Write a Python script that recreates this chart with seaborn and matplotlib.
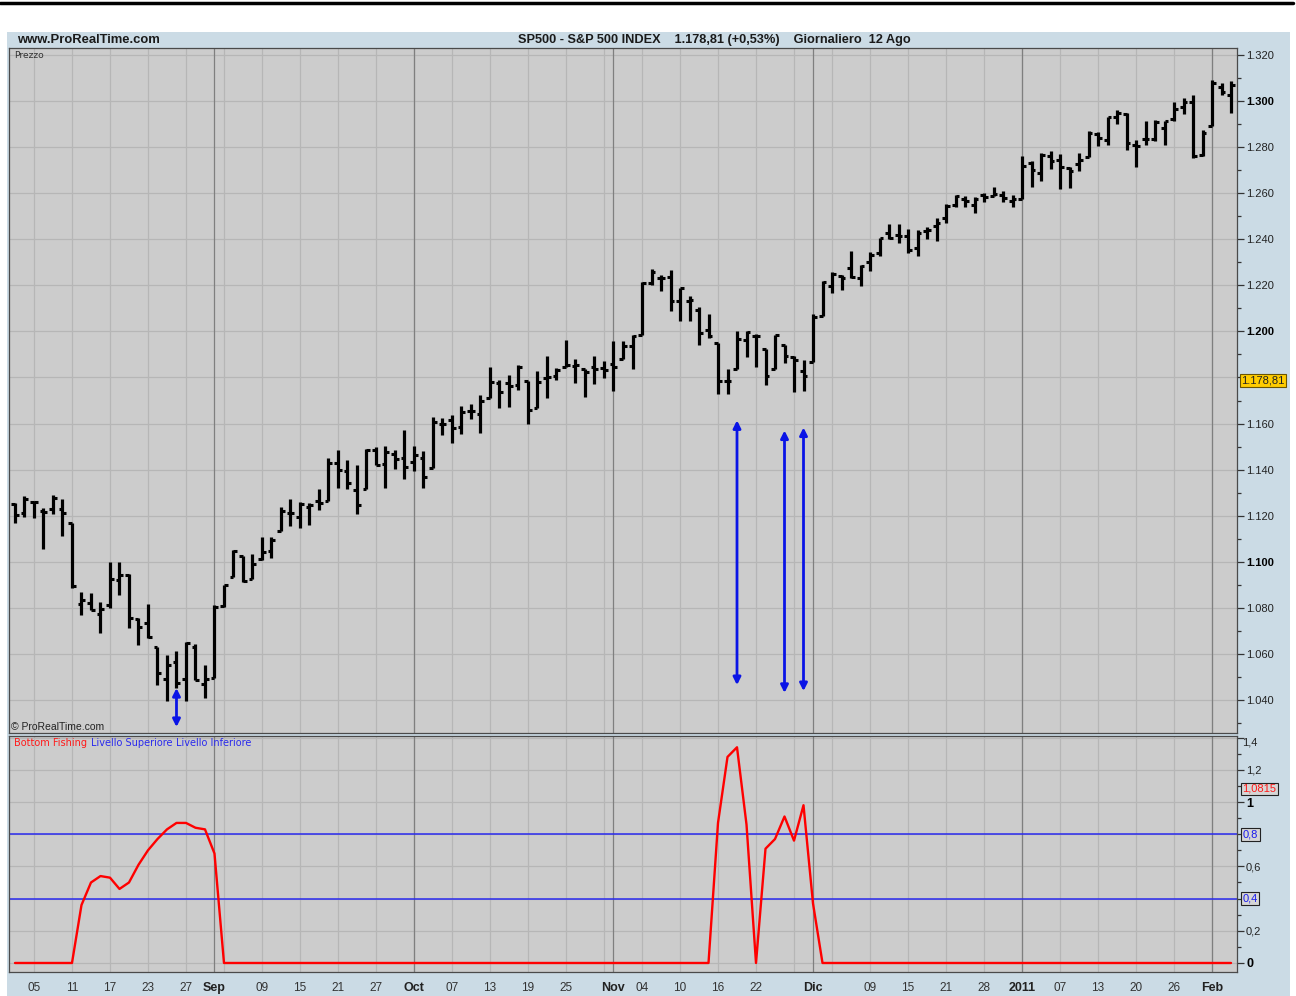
import numpy as np
import matplotlib
matplotlib.use("Agg")
import matplotlib.pyplot as plt
import matplotlib.transforms as mtransforms
from matplotlib.patches import Rectangle
from matplotlib.lines import Line2D
from matplotlib import font_manager
import seaborn as sns

# ---------------- data ----------------
dates = (
    ['2010-08-03','2010-08-04','2010-08-05','2010-08-06','2010-08-09','2010-08-10','2010-08-11','2010-08-12','2010-08-13','2010-08-16','2010-08-17','2010-08-18','2010-08-19','2010-08-20','2010-08-23','2010-08-24','2010-08-25','2010-08-26','2010-08-27','2010-08-30','2010-08-31']
    + ['2010-09-01','2010-09-02','2010-09-03','2010-09-07','2010-09-08','2010-09-09','2010-09-10','2010-09-13','2010-09-14','2010-09-15','2010-09-16','2010-09-17','2010-09-20','2010-09-21','2010-09-22','2010-09-23','2010-09-24','2010-09-27','2010-09-28','2010-09-29','2010-09-30']
    + ['2010-10-01','2010-10-04','2010-10-05','2010-10-06','2010-10-07','2010-10-08','2010-10-11','2010-10-12','2010-10-13','2010-10-14','2010-10-15','2010-10-18','2010-10-19','2010-10-20','2010-10-21','2010-10-22','2010-10-25','2010-10-26','2010-10-27','2010-10-28','2010-10-29']
    + ['2010-11-01','2010-11-02','2010-11-03','2010-11-04','2010-11-05','2010-11-08','2010-11-09','2010-11-10','2010-11-11','2010-11-12','2010-11-15','2010-11-16','2010-11-17','2010-11-18','2010-11-19','2010-11-22','2010-11-23','2010-11-24','2010-11-26','2010-11-29','2010-11-30']
    + ['2010-12-01','2010-12-02','2010-12-03','2010-12-06','2010-12-07','2010-12-08','2010-12-09','2010-12-10','2010-12-13','2010-12-14','2010-12-15','2010-12-16','2010-12-17','2010-12-20','2010-12-21','2010-12-22','2010-12-23','2010-12-27','2010-12-28','2010-12-29','2010-12-30','2010-12-31']
    + ['2011-01-03','2011-01-04','2011-01-05','2011-01-06','2011-01-07','2011-01-10','2011-01-11','2011-01-12','2011-01-13','2011-01-14','2011-01-18','2011-01-19','2011-01-20','2011-01-21','2011-01-24','2011-01-25','2011-01-26','2011-01-27','2011-01-28','2011-01-31']
    + ['2011-02-01','2011-02-02','2011-02-03']
)

opens = (
    [1125.3,1121.1,1125.8,1122.1,1122.8,1122.9,1116.9,1081.5,1082.2,1077.5,1081.2,1092.1,1094.2,1075.2,1073.4,1062.9,1049.0,1056.3,1049.3,1062.9,1046.9]
    + [1049.7,1080.7,1093.6,1102.6,1092.4,1101.2,1104.6,1113.4,1121.2,1119.4,1123.9,1126.4,1126.6,1142.8,1139.5,1131.1,1131.7,1148.6,1142.3,1146.6,1145.0]
    + [1143.5,1145.0,1140.7,1159.8,1161.6,1158.4,1165.3,1164.3,1171.3,1177.8,1177.5,1176.8,1178.6,1166.7,1179.6,1180.6,1184.7,1184.9,1183.8,1184.5,1183.9]
    + [1185.7,1187.9,1193.8,1198.3,1221.2,1223.2,1223.6,1213.1,1213.0,1209.1,1200.4,1194.8,1178.3,1183.8,1196.1,1198.1,1192.5,1183.7,1194.2,1189.1,1182.9]
    + [1186.6,1206.8,1219.9,1223.9,1227.3,1223.2,1230.1,1233.9,1242.5,1241.8,1241.6,1236.3,1243.6,1245.8,1249.4,1254.9,1257.5,1254.7,1259.1,1258.8,1259.4,1256.8]
    + [1257.6,1272.9,1268.8,1276.3,1274.4,1270.8,1272.6,1275.7,1285.8,1282.9,1293.2,1294.5,1280.9,1283.6,1283.3,1288.2,1292.0,1297.5,1299.6,1276.5]
    + [1289.1,1305.9,1302.8]
)
highs = (
    [1125.4,1128.5,1126.6,1123.3,1129.2,1127.2,1116.9,1086.7,1086.3,1082.6,1100.1,1099.8,1094.6,1075.6,1081.6,1063.2,1059.4,1061.5,1065.2,1064.4,1055.1]
    + [1081.3,1090.1,1105.1,1102.6,1103.3,1110.9,1110.9,1123.9,1127.4,1126.0,1125.4,1131.5,1144.9,1148.6,1144.4,1141.8,1148.9,1149.9,1150.3,1148.6,1157.2]
    + [1150.3,1148.2,1162.8,1162.3,1163.9,1167.7,1168.7,1172.6,1184.4,1178.9,1181.2,1185.5,1178.6,1182.9,1189.4,1183.9,1196.1,1187.9,1183.8,1189.5,1187.1]
    + [1195.8,1195.9,1198.3,1221.3,1227.1,1224.6,1226.8,1218.8,1215.5,1210.5,1207.4,1194.8,1183.6,1200.3,1200.0,1198.9,1192.5,1198.6,1194.2,1189.4,1187.4]
    + [1207.6,1221.9,1225.6,1224.5,1235.1,1228.9,1234.4,1240.4,1246.7,1246.6,1244.3,1243.8,1245.1,1249.1,1255.1,1259.4,1258.6,1258.4,1259.9,1262.6,1261.1,1259.3]
    + [1276.2,1274.1,1277.6,1278.2,1276.8,1271.5,1277.6,1286.9,1286.6,1293.2,1296.1,1294.6,1283.2,1291.2,1291.9,1291.3,1299.7,1301.3,1302.7,1287.2]
    + [1308.9,1307.6,1308.6]
)
lows = (
    [1116.8,1119.5,1118.8,1105.7,1120.9,1111.0,1088.6,1076.7,1079.0,1069.2,1080.0,1085.8,1071.4,1063.9,1067.1,1046.7,1039.8,1045.4,1039.7,1048.8,1040.9]
    + [1049.7,1080.4,1093.6,1091.2,1092.4,1100.6,1101.7,1113.4,1115.6,1114.6,1116.1,1122.4,1126.6,1131.9,1131.6,1120.9,1131.7,1142.0,1132.1,1140.3,1136.1]
    + [1139.4,1131.9,1140.7,1154.9,1151.4,1155.6,1162.0,1155.7,1171.3,1166.7,1167.1,1174.6,1159.7,1166.7,1171.2,1179.0,1184.7,1177.7,1171.7,1177.1,1179.8]
    + [1174.1,1187.9,1183.6,1198.3,1220.3,1217.6,1208.9,1204.3,1204.5,1194.1,1197.2,1173.0,1173.0,1183.8,1189.0,1184.6,1176.9,1183.7,1186.2,1173.6,1174.1]
    + [1186.6,1206.8,1216.8,1218.0,1223.3,1219.5,1226.1,1232.6,1240.3,1238.2,1234.0,1232.9,1239.9,1239.4,1247.1,1254.2,1253.9,1251.5,1256.2,1258.8,1256.3,1254.2]
    + [1257.6,1262.7,1265.4,1270.4,1261.7,1262.2,1269.6,1275.7,1280.5,1281.1,1290.2,1278.9,1271.3,1281.1,1282.5,1281.1,1291.2,1294.4,1275.1,1276.2]
    + [1289.1,1302.6,1294.8]
)
closes = (
    [1120.5,1127.2,1125.8,1121.6,1127.8,1121.1,1089.5,1083.6,1079.3,1079.4,1092.5,1094.2,1075.6,1071.7,1067.4,1051.9,1055.3,1047.2,1064.6,1048.9,1049.3]
    + [1080.3,1090.1,1104.5,1091.8,1098.9,1104.2,1109.6,1121.9,1121.1,1125.1,1124.7,1125.6,1142.7,1139.8,1134.3,1124.8,1148.7,1142.2,1147.7,1144.7,1141.2]
    + [1146.2,1137.0,1160.8,1160.0,1158.1,1165.2,1165.3,1169.8,1178.1,1173.8,1176.2,1184.7,1165.9,1178.2,1180.3,1183.1,1185.6,1185.6,1182.5,1183.8,1183.3]
    + [1184.4,1193.6,1198.0,1221.1,1225.9,1223.3,1213.4,1218.7,1213.5,1199.2,1197.8,1178.3,1178.6,1196.7,1199.7,1197.8,1180.7,1198.4,1189.4,1187.8,1180.6]
    + [1206.1,1221.5,1224.7,1223.1,1223.8,1228.3,1233.0,1240.4,1240.5,1241.6,1235.2,1242.9,1243.9,1247.1,1254.6,1258.8,1256.8,1257.5,1258.5,1259.8,1257.9,1257.6]
    + [1271.9,1270.2,1276.6,1273.9,1271.5,1269.8,1274.5,1286.0,1283.8,1293.2,1295.0,1281.9,1280.3,1283.4,1290.8,1291.2,1296.6,1299.5,1276.3,1286.1]
    + [1307.6,1304.0,1307.1]
)

bottom_fishing = (
    [0.0,0.0,0.0,0.0,0.0,0.0,0.0,0.36,0.50,0.54,0.53,0.46,0.50,0.61,0.70,0.77,0.83,0.87,0.87,0.84,0.83]
    + [0.68,0.0,0.0,0.0,0.0,0.0,0.0,0.0,0.0,0.0,0.0,0.0,0.0,0.0,0.0,0.0,0.0,0.0,0.0,0.0,0.0]
    + [0.0,0.0,0.0,0.0,0.0,0.0,0.0,0.0,0.0,0.0,0.0,0.0,0.0,0.0,0.0,0.0,0.0,0.0,0.0,0.0,0.0]
    + [0.0,0.0,0.0,0.0,0.0,0.0,0.0,0.0,0.0,0.0,0.0,0.87,1.28,1.34,0.86,0.0,0.71,0.77,0.91,0.76,0.98]
    + [0.37,0.0,0.0,0.0,0.0,0.0,0.0,0.0,0.0,0.0,0.0,0.0,0.0,0.0,0.0,0.0,0.0,0.0,0.0,0.0,0.0,0.0]
    + [0.0,0.0,0.0,0.0,0.0,0.0,0.0,0.0,0.0,0.0,0.0,0.0,0.0,0.0,0.0,0.0,0.0,0.0,0.0,0.0]
    + [0.0,0.0,0.0]
)
livello_superiore = 0.8
livello_inferiore = 0.4
last_price = 1178.81
last_price_label = '1.178,81'
last_indicator = 1.0815
last_indicator_label = '1,0815'

xtick_dates = ['2010-08-05','2010-08-11','2010-08-17','2010-08-23','2010-08-27','2010-09-01','2010-09-09',
               '2010-09-15','2010-09-21','2010-09-27','2010-10-01','2010-10-07','2010-10-13','2010-10-19',
               '2010-10-25','2010-11-01','2010-11-04','2010-11-10','2010-11-16','2010-11-22','2010-12-01',
               '2010-12-09','2010-12-15','2010-12-21','2010-12-28','2011-01-03','2011-01-07','2011-01-13',
               '2011-01-20','2011-01-26','2011-02-01']
xtick_labels = ['05','11','17','23','27','Sep','09','15','21','27','Oct','07','13','19','25','Nov','04',
                '10','16','22','Dic','09','15','21','28','2011','07','13','20','26','Feb']
month_labels = ['Sep','Oct','Nov','Dic','2011','Feb']
month_dates = ['2010-09-01','2010-10-01','2010-11-01','2010-12-01','2011-01-03','2011-02-01']

arrow_dates = ['2010-08-26','2010-11-18','2010-11-26','2010-11-30']
arrow_tops = [1045.2, 1161.4, 1157.0, 1158.3]
arrow_bottoms = [1028.3, 1046.5, 1043.1, 1043.9]

price_ticks = [1040,1060,1080,1100,1120,1140,1160,1180,1200,1220,1240,1260,1280,1300,1320]
ind_ticks = [0.0,0.2,0.4,0.6,0.8,1.0,1.2,1.4]
ind_tick_labels = ['0','0,2','0,4','0,6','0,8','1','1,2','1,4']

# ---------------- style ----------------
sns.set_style("white")
names = {f.name for f in font_manager.fontManager.ttflist}
narrow = 'Liberation Sans Narrow' if 'Liberation Sans Narrow' in names else 'Liberation Sans'
plt.rcParams['font.family'] = [narrow, 'DejaVu Sans']
reg = ['Liberation Sans', 'DejaVu Sans']
wide = ['DejaVu Sans']

W, H = 1296, 996
fig = plt.figure(figsize=(W/100, H/100), dpi=100)
fig.patch.set_facecolor('white')

def fx(px):
    return px / W

def fy(py):
    return 1 - py / H

FRAME = '#cbdbe5'
BG = '#cccccc'
GRID = '#b6b6b6'
MONTH = '#7f7f7f'

fig.add_artist(Rectangle((fx(7), 0), fx(1290) - fx(7), fy(32), transform=fig.transFigure,
                         facecolor=FRAME, edgecolor='none', zorder=0))
fig.add_artist(Line2D([0, fx(1293)], [fy(3), fy(3)], color='black', lw=2.5,
                      transform=fig.transFigure))

ax1 = fig.add_axes([fx(9), fy(733), fx(1237) - fx(9), fy(48) - fy(733)])
ax2 = fig.add_axes([fx(9), fy(972), fx(1237) - fx(9), fy(736) - fy(972)])

idx = {d: i for i, d in enumerate(dates)}
x = np.arange(len(dates))
xlim = (-0.63, len(dates) - 1 + 0.63)

for ax in (ax1, ax2):
    ax.set_facecolor(BG)
    ax.set_xlim(*xlim)
    for i in range(2, len(dates), 4):
        ax.axvline(i, color=GRID, lw=0.9, zorder=0.5)
    for d in month_dates:
        ax.axvline(idx[d], color=MONTH, lw=0.9, zorder=0.6)
    for s in ax.spines.values():
        s.set_color('#4a4a4a')
        s.set_linewidth(0.9)

# ---------------- price panel ----------------
ax1.set_ylim(1025.7, 1323.0)
for v in price_ticks:
    ax1.axhline(v, color=GRID, lw=0.9, zorder=0.5)

o = np.array(opens); h = np.array(highs); l = np.array(lows); c = np.array(closes)
ax1.vlines(x, l, h, color='black', lw=2.3, zorder=3, capstyle='butt')
ax1.hlines(o, x - 0.38, x, color='black', lw=2.2, zorder=3)
ax1.hlines(c, x, x + 0.38, color='black', lw=2.2, zorder=3)

for d, top, bot in zip(arrow_dates, arrow_tops, arrow_bottoms):
    ax1.annotate('', xy=(idx[d], top), xytext=(idx[d], bot),
                 arrowprops=dict(arrowstyle='<|-|>', color='#0a14e6', lw=2.0,
                                 mutation_scale=11, shrinkA=0, shrinkB=0), zorder=4)

ax1.yaxis.tick_right()
ax1.set_yticks(price_ticks)
ax1.set_yticklabels(['' if v == 1180 else f"{v/1000:.3f}" for v in price_ticks])
ax1.set_yticks(np.arange(1030, 1321, 20), minor=True)
ax1.tick_params(axis='y', which='major', direction='out', length=5, width=0.9,
                color='#333333', labelsize=8, labelcolor='#222222', pad=1.5)
ax1.tick_params(axis='y', which='minor', direction='out', length=3, width=0.9, color='#333333')
for lab, v in zip(ax1.get_yticklabels(), price_ticks):
    lab.set_family(reg)
    if v in (1100, 1200, 1300):
        lab.set_fontweight('bold')
        lab.set_color('black')
ax1.set_xticks([])

trans1 = mtransforms.blended_transform_factory(ax1.transAxes, ax1.transData)
ax1.text(1.0035, last_price, last_price_label, transform=trans1, ha='left', va='center',
         fontsize=8, family=reg, color='#222222',
         bbox=dict(boxstyle='square,pad=0.12', fc='#ffcc00', ec='#6b5500', lw=0.8))

# ---------------- indicator panel ----------------
ax2.set_ylim(-0.056, 1.41)
for v in ind_ticks:
    ax2.axhline(v, color=GRID, lw=0.9, zorder=0.5)
ax2.axhline(livello_superiore, color='#2a2aee', lw=1.1, zorder=2)
ax2.axhline(livello_inferiore, color='#2a2aee', lw=1.1, zorder=2)
sns.lineplot(x=x, y=np.array(bottom_fishing), ax=ax2, color='#ff0000', linewidth=1.7,
             legend=False, zorder=3)
ax2.set_xlabel('')
ax2.set_ylabel('')

ax2.yaxis.tick_right()
ax2.set_yticks(ind_ticks)
ax2.set_yticklabels(['' if t in ('0,4', '0,8', '1,4') else t for t in ind_tick_labels])
ax2.set_yticks(np.arange(0.1, 1.41, 0.2), minor=True)
ax2.tick_params(axis='y', which='major', direction='out', length=5, width=0.9,
                color='#333333', labelsize=8, labelcolor='#222222', pad=1.5)
ax2.tick_params(axis='y', which='minor', direction='out', length=3, width=0.9, color='#333333')
for lab, t in zip(ax2.get_yticklabels(), ind_tick_labels):
    lab.set_family(reg)
    if t in ('0', '1'):
        lab.set_fontweight('bold')
        lab.set_color('black')
        lab.set_fontsize(9)

trans2 = mtransforms.blended_transform_factory(ax2.transAxes, ax2.transData)
ax2.text(1.0045, 1.4, '1,4', transform=trans2, ha='left', va='top', fontsize=8,
         family=reg, color='#222222')
for val, txt in ((livello_superiore, '0,8'), (livello_inferiore, '0,4')):
    ax2.text(1.0045, val, txt, transform=trans2, ha='left', va='center', fontsize=8,
             family=reg, color='#1a1aee',
             bbox=dict(boxstyle='square,pad=0.15', fc='#d6d6d6', ec='#222222', lw=0.8))
ax2.text(1.0045, last_indicator, last_indicator_label, transform=trans2, ha='left', va='center',
         fontsize=8, family=reg, color='#ff1a1a',
         bbox=dict(boxstyle='square,pad=0.12', fc='#d6d6d6', ec='#222222', lw=0.8))

ax2.set_xticks([idx[d] for d in xtick_dates])
ax2.set_xticklabels(xtick_labels)
ax2.tick_params(axis='x', direction='out', length=3, width=0.9, color='#333333',
                labelsize=8.5, labelcolor='#333333', pad=4)
for lab in ax2.get_xticklabels():
    if lab.get_text() in month_labels:
        lab.set_fontweight('bold')
        lab.set_color('#222222')
        lab.set_fontsize(9)

# ---------------- texts ----------------
fig.text(fx(17), fy(40), 'www.ProRealTime.com', fontsize=9.4, fontweight='bold',
         color='#1a1a1a', va='center', ha='left')
fig.text(fx(714), fy(40), 'SP500 - S&P 500 INDEX    1.178,81 (+0,53%)    Giornaliero  12 Ago',
         fontsize=9.2, fontweight='bold', color='#1a1a1a', va='center', ha='center')
fig.text(fx(14), fy(55), 'Prezzo', fontsize=6.6, color='#333333', va='center', ha='left',
         family=wide)
fig.text(fx(11), fy(727), '\u00a9 ProRealTime.com', fontsize=7.5, color='#222222',
         va='center', ha='left', family=reg)

fig.text(fx(14), fy(743), 'Bottom Fishing', fontsize=7.0, color='#ff1a1a',
         va='center', ha='left', family=wide)
fig.text(fx(91), fy(743), 'Livello Superiore', fontsize=7.0, color='#2a2aee',
         va='center', ha='left', family=wide)
fig.text(fx(176), fy(743), 'Livello Inferiore', fontsize=7.0, color='#2a2aee',
         va='center', ha='left', family=wide)

fig.savefig('out.png', dpi=100, facecolor='white')
